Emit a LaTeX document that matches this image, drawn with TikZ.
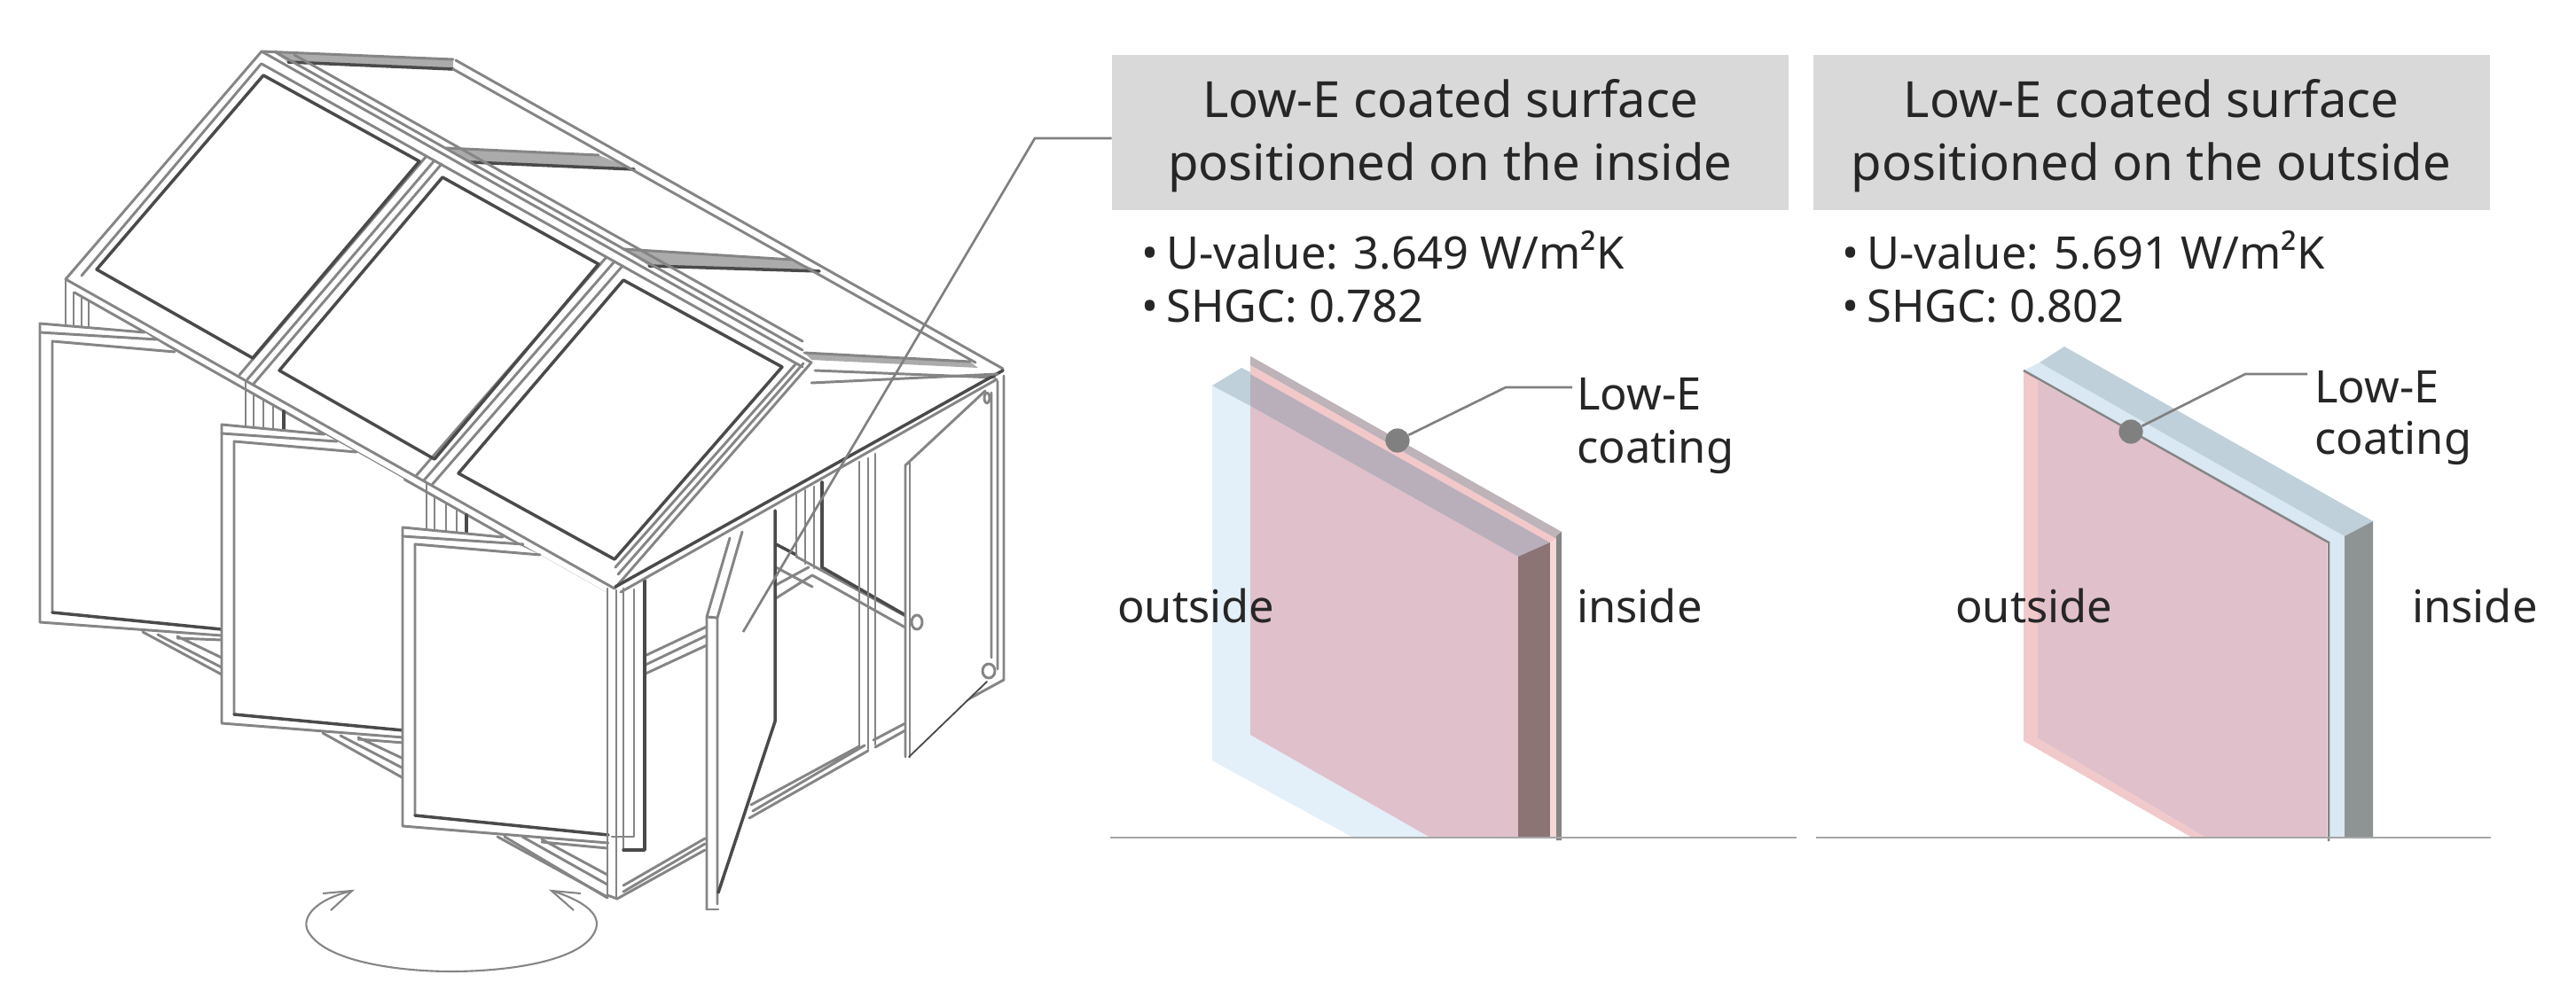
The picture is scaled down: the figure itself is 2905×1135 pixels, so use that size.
\documentclass[tikz,border=0pt]{standalone}
\usepackage{fontspec}
\setmainfont{Noto Sans}
\definecolor{frameg}{HTML}{858585}
\definecolor{framed}{HTML}{4A4A4A}
\definecolor{bandg}{HTML}{ABABAB}
\definecolor{boxg}{HTML}{D9D9D9}
\definecolor{lead}{HTML}{808080}
\definecolor{groundg}{HTML}{A6A6A6}
\definecolor{ablue}{HTML}{E3EFF9}
\definecolor{apink}{HTML}{E0C0CA}
\definecolor{atopb}{HTML}{BFD0DA}
\definecolor{atopm}{HTML}{B9AFBB}
\definecolor{atopg}{HTML}{BDB3B8}
\definecolor{astrip}{HTML}{F2C8C8}
\definecolor{aside}{HTML}{8C7474}
\definecolor{bstrip}{HTML}{F2C9CB}
\definecolor{blight}{HTML}{D9E8F3}
\definecolor{bside}{HTML}{8E9394}
\tikzset{
  fr/.style={draw=frameg,line width=2.1pt,line join=round,line cap=round},
  dk/.style={draw=framed,line width=2.5pt,line join=round,line cap=round},
  wf/.style={fill=white,draw=none},
  bandf/.style={fill=bandg,draw=none},
  titlebox/.style={fill=boxg,draw=none,minimum width=190.75mm,minimum height=43.75mm,inner sep=0pt},
  titletxt/.style={align=center,inner sep=0pt,font=\fontsize{40}{50.5}\selectfont,text=black!85},
  bodytxt/.style={anchor=west,inner sep=0pt,font=\fontsize{36}{40}\selectfont,text=black!85},
  leadline/.style={draw=lead,line width=1.9pt},
  groundline/.style={draw=groundg,line width=1.8pt},
  lowedot/.style={circle,fill=lead,draw=none,minimum size=6.8mm,inner sep=0pt},
}
\begin{document}
\begin{tikzpicture}[x=0.25mm,y=-0.25mm]
\useasboundingbox (0,0) rectangle (2905,1135);
% ---- rear roof
\fill[bandf] (307,58)--(511,67)--(511,78)--(325,70)--cycle;
\fill[bandf] (503,167)--(675,175)--(715,191)--(531,183)--cycle;
\fill[bandf] (703,281)--(893,293)--(924,306)--(732,300)--cycle;
\fill[bandf] (907,398)--(1094,408)--(1103,415)--(915,406)--cycle;
\draw[dk] (325,70)--(511,78) (531,183)--(715,191) (732,300)--(924,306);
\draw[fr] (919,418)--(1122,426) (907,398)--(1094,408) (295,58)--(511,67) (503,167)--(675,175) (703,281)--(893,293);
\draw[fr] (514,68)--(1131,416) (511,78)--(1100,409);
\draw[fr] (311,59)--(905,395) (332,62)--(905,385);
% ---- front roof
\draw[fr] (295,58)--(74,315)--(693,664)--(915,409)--cycle;
\draw[fr] (84,330)--(684,670) (295,72)--(905,414) (294.5,72)--(92,311);
\draw[fr] (906,410)--(697,648) (897,411)--(694,640);
\draw[fr] (481,176)--(270,423) (490,181)--(279,428) (498,185)--(286,433);
\draw[fr] (684,290)--(469,537) (693,295)--(478,542) (702,300)--(487,547);
\draw[dk] (297,85)--(109,304)--(285,404)--(473,182)--cycle;
\draw[dk] (499,200)--(315,418)--(490,518)--(675,298)--cycle;
\draw[dk] (703,316)--(517,534)--(693,631)--(882,414)--cycle;
% ---- posts under eave
\draw[fr] (74,316)--(74,367) (83,330)--(83,370) (92,335)--(92,370) (100,340)--(100,372);
\draw[fr] (277,430)--(277,481) (286,445)--(286,484) (297,451)--(297,486) (308,457)--(308,486);
\draw[dk] (320,464)--(320,488);
\draw[fr] (481,545)--(481,597) (490,560)--(490,600) (503,568)--(503,602) (515,575)--(515,602);
\draw[dk] (526,581)--(526,604);
% ---- lower rails under windows
\draw[fr] (161,713)--(250,761) (178,716)--(250,753) (200,718)--(250,742) (200,720)--(250,722);
\draw[fr] (364,827)--(455,878) (384,830)--(455,867) (404,832)--(455,856) (404,834)--(455,838);
\draw[fr] (569,944)--(685,1013) (589,944)--(685,998) (611,947)--(685,987) (611,950)--(685,957);
% ---- windows
\fill[wf] (45,365)--(163,375)--(197,397)--(250,430)--(250,713)--(45,702)--cycle;
\draw[fr] (163,375)--(45,365)--(45,702)--(250,717);
\draw[fr] (45,375)--(177,383) (197,397)--(59,385)--(59,691);
\draw[dk] (59,691)--(250,710);
\fill[wf] (250,479)--(366,490)--(402,510)--(455,540)--(455,827)--(250,816)--cycle;
\draw[fr] (366,490)--(250,479)--(250,816)--(455,832);
\draw[fr] (250,489)--(380,498) (402,510)--(264,498)--(264,806);
\draw[dk] (264,806)--(455,824);
\fill[wf] (454,595)--(567,606)--(609,626)--(685,669)--(685,947)--(454,932)--cycle;
\draw[fr] (567,606)--(454,595)--(454,932)--(686,951);
\draw[fr] (454,605)--(590,614) (609,626)--(468,614)--(468,920);
\draw[dk] (468,920)--(686,942);
% ---- wall at the gable side: back rails and posts
\draw[fr] (875,675)--(916,649) (875,660)--(912,640) (875,640)--(916,662);
\draw[fr] (916,649)--(1021,708) (898,628)--(1021,695);
\draw[dk] (927,640)--(1021,694) (875,614)--(898,626);
\draw[fr] (898,557)--(898,628) (908,553)--(908,636) (918,549)--(918,641);
\draw[dk] (927,544)--(927,640);
% mid rail
\draw[fr] (727,740)--(797,707) (728,750)--(797,717) (728,760)--(797,728);
% fixed frame beside corner
\draw[fr] (715,665)--(715,944)--(690,944);
\draw[fr] (703,664)--(703,959);
\draw[dk] (727,655)--(727,959)--(703,959);
% corner post
\draw[fr] (685,664)--(685,1010) (695,666)--(695,1014);
\draw[fr] (685,1010)--(696,1014)--(795,959) (703,999)--(795,946) (703,1006)--(795,952);
\draw[fr] (561,944)--(685,1012);
% bottom rail right of centre door
\draw[fr] (849,915)--(975,841) (845,923)--(979,847) (847,908)--(969,842);
\draw[fr] (985,835)--(1021,816) (987,843)--(1021,824);
% mid posts
\draw[fr] (969,521)--(969,842) (979,517)--(979,845) (987,512)--(987,840);
% right post
\draw[fr] (1118,443)--(1118,742) (1125,430)--(1125,755) (1132,424)--(1132,767)--(1090,790);
% rafter
\draw[dk] (694,662)--(1131,418);
\draw[fr] (700,668)--(1124,428);
\draw[fr] (915,432)--(1125,422);
% ---- centre door
\fill[wf] (797,696)--(823,607)--(837,600)--(874,576)--(874,814)--(810,1007)--(810,1026)--(797,1026)--cycle;
\draw[fr] (797,1026)--(797,696)--(823,607) (809,1020)--(809,697)--(837,600) (797,696)--(809,697);
\draw[fr] (797,1026)--(810,1026);
\draw[dk] (874,576)--(874,814)--(810,1007);
% ---- hinged door at right
\fill[wf] (1021,525)--(1111,441)--(1113,769)--(1025,854)--(1021,854)--cycle;
\draw[fr] (1021,854)--(1021,525)--(1111,441);
\draw[fr] (1026,854)--(1026,522);
\draw[dk,line width=1.3pt] (1025,854)--(1113,769);
\draw[fr,fill=white] (1034,702) ellipse (6 and 8);
\draw[fr,fill=white] (1115,757) ellipse (7 and 8);
\draw[fr] (1113,449) ellipse (3 and 6);
% ---- rotation arrow
\draw[draw=frameg,line width=1.5pt,line join=round]
  (397,1005) .. controls (355,1015) and (340,1035) .. (347,1050)
  .. controls (365,1085) and (450,1096) .. (509,1096)
  .. controls (570,1096) and (660,1085) .. (672,1048)
  .. controls (678,1030) and (655,1015) .. (622,1005);
\draw[draw=frameg,line width=1.5pt,line join=miter] (364,1008)--(397,1005)--(373,1027);
\draw[draw=frameg,line width=1.5pt,line join=miter] (655,1008)--(622,1005)--(647,1027);
% ---- glass A
\fill[ablue] (1367,435)--(1410,458)--(1410,829)--(1613,945)--(1526,945)--(1367,858)--cycle;
\fill[apink] (1410,458)--(1712,628)--(1712,945)--(1613,945)--(1410,829)--cycle;
\fill[atopb] (1367,435)--(1400,415)--(1410,420)--(1410,458)--cycle;
\fill[atopm] (1410,420)--(1748,612)--(1712,628)--(1410,458)--cycle;
\fill[atopg] (1410,402)--(1414,404)--(1761,600)--(1755,608)--(1410,412)--cycle;
\fill[astrip] (1410,412)--(1755,608)--(1748,612)--(1410,422)--cycle;
\fill[aside] (1712,628)--(1748,612)--(1748,945)--(1712,945)--cycle;
\fill[astrip!70] (1748,612)--(1755,608)--(1755,945)--(1748,945)--cycle;
\fill[frameg] (1755,605)--(1761,600)--(1761,948)--(1755,948)--cycle;
% ---- glass B
\fill[bstrip] (2282,418)--(2298,429)--(2298,833)--(2488,945)--(2472,945)--(2282,836)--cycle;
\fill[apink] (2298,429)--(2624,612)--(2624,945)--(2488,945)--(2298,833)--cycle;
\fill[blight] (2282,418)--(2300,409)--(2644,605)--(2644,945)--(2626,945)--(2626,612)--cycle;
\fill[atopb] (2300,409)--(2328,391)--(2676,588)--(2644,605)--cycle;
\fill[bside] (2644,605)--(2676,588)--(2676,945)--(2644,945)--cycle;
\draw[draw=frameg,line width=1.8pt] (2282,418)--(2626,612)--(2626,949);
% ---- ground
\coordinate (g1a) at (1252,945); \coordinate (g1b) at (2026,945);
\coordinate (g2a) at (2048,945); \coordinate (g2b) at (2809,945);
\draw[groundline] (g1a)--(g1b) (g2a)--(g2b);
% ---- titles
\node[titlebox] (boxA) at (1635.5,149.5) {};
\node[titlebox] (boxB) at (2426,149.5) {};
\node[titletxt] (titleA) at (1635.5,153) {Low-E coated surface\\positioned on the inside};
\node[titletxt] (titleB) at (2426,153) {Low-E coated surface\\positioned on the outside};
% ---- callout leader
\coordinate (lk) at (1167,156); \coordinate (lend) at (838,713);
\draw[leadline] (boxA.west |- lk)--(lk)--(lend);
% ---- property text
\node[bodytxt] (ua) at (1287,282) {•\hspace{0.18em}U-value: 3.649 W/m²K};
\node[bodytxt] (sa) at (1287,346) {•\hspace{0.18em}SHGC: 0.782};
\node[bodytxt] (ub) at (2077,282) {•\hspace{0.18em}U-value: 5.691 W/m²K};
\node[bodytxt] (sb) at (2077,346) {•\hspace{0.18em}SHGC: 0.802};
% ---- labels
\node[bodytxt] (la1) at (1778,445) {Low-E};
\node[bodytxt] (la2) at (1778,510) {coating};
\node[bodytxt] (lb1) at (2610,437) {Low-E};
\node[bodytxt] (lb2) at (2610,500) {coating};
\node[bodytxt] (oa) at (1260,684) {outside};
\node[bodytxt] (ia) at (1778,684) {inside};
\node[bodytxt] (ob) at (2205,684) {outside};
\node[bodytxt] (ib) at (2720,684) {inside};
% ---- coating markers
\node[lowedot] (da) at (1576,497) {};
\node[lowedot] (db) at (2403,487) {};
\coordinate (ea) at (1698,437); \coordinate (eb) at (2532,422);
\coordinate (fa) at (1773,437); \coordinate (fb) at (2602,422);
\draw[leadline] (da)--(ea)--(fa);
\draw[leadline] (db)--(eb)--(fb);
\end{tikzpicture}
\end{document}
